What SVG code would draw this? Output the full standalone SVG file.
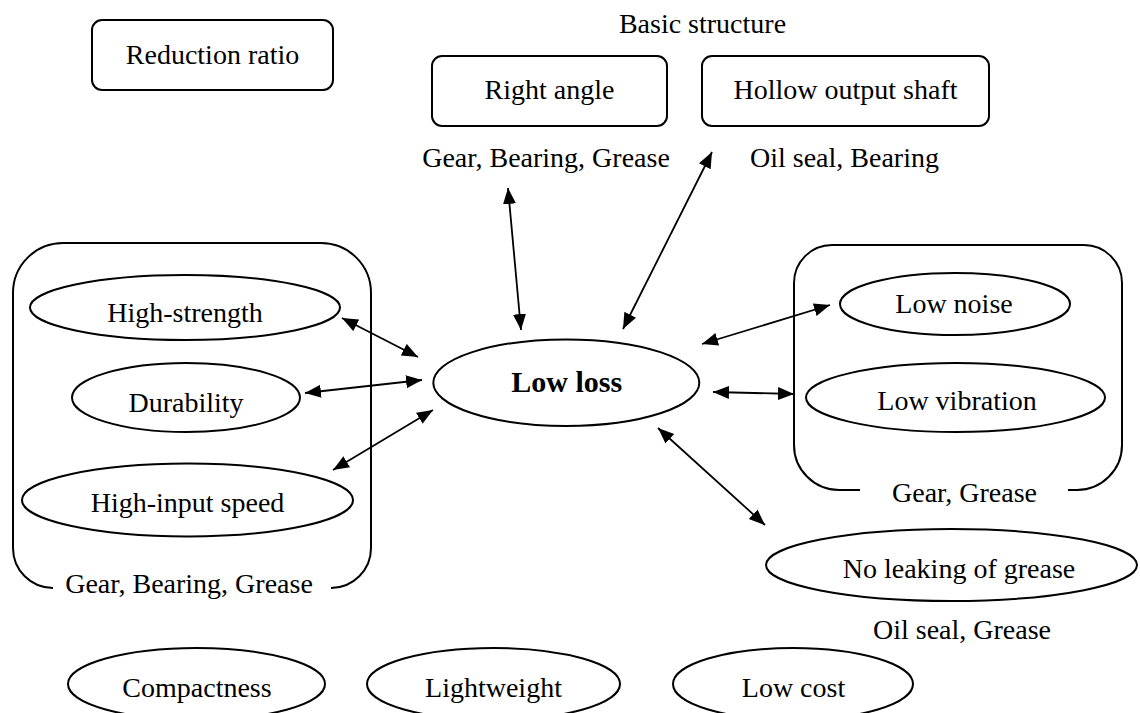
<svg xmlns="http://www.w3.org/2000/svg" width="1140" height="713" viewBox="0 0 1140 713">
<style>
text{font-family:"Liberation Serif","Times New Roman",serif;font-size:28px;fill:#000;text-anchor:middle}
.b{font-weight:bold;font-size:30px}
.s{fill:none;stroke:#000;stroke-width:2}
.c{fill:none;stroke:#000;stroke-width:1.8}
</style>
<defs>
<marker id="ah" markerUnits="userSpaceOnUse" markerWidth="17" markerHeight="14" refX="16" refY="6.5" orient="auto-start-reverse">
<path d="M0,0 L16,6.5 L0,13 z" fill="#000"/>
</marker>
</defs>
<rect width="1140" height="713" fill="#fff"/>

<g id="reduction-ratio">
<rect class="s" x="92" y="20" width="241" height="70" rx="10"/>
<text x="212.5" y="64">Reduction ratio</text>
</g>

<g id="basic-structure">
<text x="702.5" y="33">Basic structure</text>
</g>

<g id="right-angle">
<rect class="s" x="432" y="56" width="235" height="70" rx="10"/>
<text x="549.5" y="99">Right angle</text>
<text x="546" y="167">Gear, Bearing, Grease</text>
</g>

<g id="hollow-output-shaft">
<rect class="s" x="702" y="56" width="287" height="70" rx="10"/>
<text x="845.5" y="99">Hollow output shaft</text>
<text x="844.5" y="167">Oil seal, Bearing</text>
</g>

<g id="left-group">
<path class="s" d="M53,588 A40,40 0 0 1 13,548 L13,293 A50,50 0 0 1 63,243 L321,243 A50,50 0 0 1 371,293 L371,548 A40,40 0 0 1 331,588"/>
<text x="189" y="593">Gear, Bearing, Grease</text>
</g>

<g id="high-strength">
<ellipse class="s" cx="185" cy="307.5" rx="155" ry="32.5"/>
<text x="185" y="321.5">High-strength</text>
</g>

<g id="durability">
<ellipse class="s" cx="186" cy="397.5" rx="114" ry="34.5"/>
<text x="186" y="411.5">Durability</text>
</g>

<g id="high-input-speed">
<ellipse class="s" cx="187.5" cy="500" rx="165.5" ry="36.5"/>
<text x="187.5" y="511.5">High-input speed</text>
</g>

<g id="low-loss">
<ellipse class="s" cx="566.3" cy="382.7" rx="133" ry="43.3"/>
<text class="b" x="566.7" y="391.7">Low loss</text>
</g>

<g id="right-group">
<path class="s" d="M860,490 L839,490 A45,45 0 0 1 794,445 L794,283 A38,38 0 0 1 832,245 L1084,245 A38,38 0 0 1 1122,283 L1122,445 A45,45 0 0 1 1077,490 L1068,490"/>
<text x="964.5" y="501.5">Gear, Grease</text>
</g>

<g id="low-noise">
<ellipse class="s" cx="955" cy="304" rx="115" ry="31"/>
<text x="954" y="313">Low noise</text>
</g>

<g id="low-vibration">
<ellipse class="s" cx="955.5" cy="397.5" rx="149.5" ry="34.5"/>
<text x="957" y="410">Low vibration</text>
</g>

<g id="no-leaking">
<ellipse class="s" cx="951.5" cy="565" rx="185.5" ry="36"/>
<text x="959" y="578">No leaking of grease</text>
<text x="962" y="639">Oil seal, Grease</text>
</g>

<g id="compactness">
<ellipse class="s" cx="196.5" cy="684" rx="128.5" ry="36"/>
<text x="197" y="697">Compactness</text>
</g>

<g id="lightweight">
<ellipse class="s" cx="493.5" cy="684" rx="126.5" ry="36"/>
<text x="493.5" y="697">Lightweight</text>
</g>

<g id="low-cost">
<ellipse class="s" cx="793" cy="684" rx="120" ry="36"/>
<text x="793.5" y="697">Low cost</text>
</g>

<g id="connectors">
<line class="c" x1="508" y1="188" x2="521" y2="330" marker-start="url(#ah)" marker-end="url(#ah)"/>
<line class="c" x1="712" y1="152" x2="623" y2="329" marker-start="url(#ah)" marker-end="url(#ah)"/>
<line class="c" x1="342" y1="318" x2="418" y2="357" marker-start="url(#ah)" marker-end="url(#ah)"/>
<line class="c" x1="305" y1="393" x2="422" y2="380" marker-start="url(#ah)" marker-end="url(#ah)"/>
<line class="c" x1="333" y1="470" x2="433" y2="410" marker-start="url(#ah)" marker-end="url(#ah)"/>
<line class="c" x1="702" y1="344" x2="830" y2="305" marker-start="url(#ah)" marker-end="url(#ah)"/>
<line class="c" x1="713" y1="392" x2="794" y2="394" marker-start="url(#ah)" marker-end="url(#ah)"/>
<line class="c" x1="658" y1="428" x2="765" y2="525" marker-start="url(#ah)" marker-end="url(#ah)"/>
</g>
</svg>
